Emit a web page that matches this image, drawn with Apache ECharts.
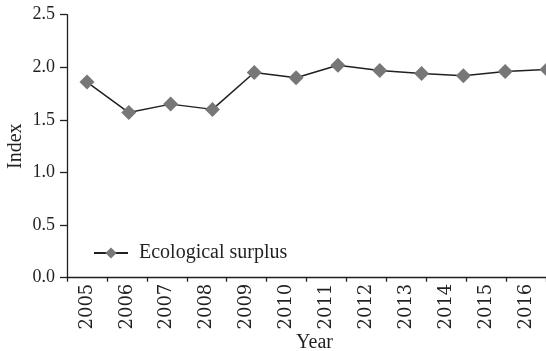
<!DOCTYPE html>
<html>
<head>
<meta charset="utf-8">
<style>html,body{margin:0;padding:0;background:#fff}#c{width:546px;height:351px}</style>
<script src="https://cdn.jsdelivr.net/npm/echarts@6/dist/echarts.min.js"></script>
</head>
<body>
<div id="c"></div>
<script>
const years = ['2005','2006','2007','2008','2009','2010','2011','2012','2013','2014','2015','2016'];
const surplus = [1.86, 1.57, 1.65, 1.60, 1.95, 1.90, 2.02, 1.97, 1.94, 1.92, 1.96, 1.98];
const yTickLabels = ['0.0','0.5','1.0','1.5','2.0','2.5'];
const seriesName = 'Ecological surplus';

const chart = echarts.init(document.getElementById('c'), null, {renderer: 'canvas'});
const serif = '"Liberation Serif", "Times New Roman", serif';
const ink = '#231f20';
chart.setOption({
  animation: false,
  backgroundColor: '#fff',
  grid: [
    {left: 67, right: 0, top: 14.7, bottom: 73.3, containLabel: false, outerBoundsMode: 'none'},
    {left: 87, right: -1, top: 14.7, bottom: 73.3, containLabel: false, outerBoundsMode: 'none'}
  ],
  legend: {
    left: 88, top: 238,
    itemWidth: 34, itemHeight: 14, itemGap: 7,
    textStyle: {fontFamily: serif, fontSize: 20, color: ink, padding: [0, 0, 0, 6]},
    data: [seriesName]
  },
  xAxis: [
    {
      type: 'category', gridIndex: 0, data: years, boundaryGap: true,
      axisLine: {lineStyle: {color: ink, width: 1.3}},
      axisTick: {show: true, length: 4, lineStyle: {color: ink, width: 1.3}},
      axisLabel: {rotate: 90, margin: 6, fontFamily: '"DejaVu Serif", serif', fontSize: 18, color: ink},
      name: 'Year', nameLocation: 'middle', nameGap: 55, nameMoveOverlap: false,
      nameTextStyle: {fontFamily: serif, fontSize: 20, color: ink, padding: [0, 0, 0, 16]}
    },
    {
      type: 'category', gridIndex: 1, data: years, boundaryGap: false, show: false
    }
  ],
  yAxis: [
    {
      type: 'value', gridIndex: 0, min: 0, max: 2.5, interval: 0.5,
      axisLine: {show: true, lineStyle: {color: ink, width: 1.3}},
      axisTick: {show: true, length: 7, lineStyle: {color: ink, width: 1.3}},
      splitLine: {show: false},
      axisLabel: {margin: 12, fontFamily: serif, fontSize: 18, color: ink,
        formatter: (v) => yTickLabels[Math.round(v / 0.5)]},
      name: 'Index', nameLocation: 'middle', nameGap: 41, nameRotate: 90, nameMoveOverlap: false,
      nameTextStyle: {fontFamily: serif, fontSize: 20, color: ink}
    },
    {
      type: 'value', gridIndex: 1, min: 0, max: 2.5, interval: 0.5, show: false,
      splitLine: {show: false}
    }
  ],
  series: [{
    name: seriesName,
    type: 'line',
    xAxisIndex: 1, yAxisIndex: 1,
    data: surplus,
    symbol: 'diamond', symbolSize: 15,
    itemStyle: {color: '#77777a'},
    lineStyle: {color: ink, width: 1.5},
    clip: false
  }]
});
</script>
</body>
</html>
